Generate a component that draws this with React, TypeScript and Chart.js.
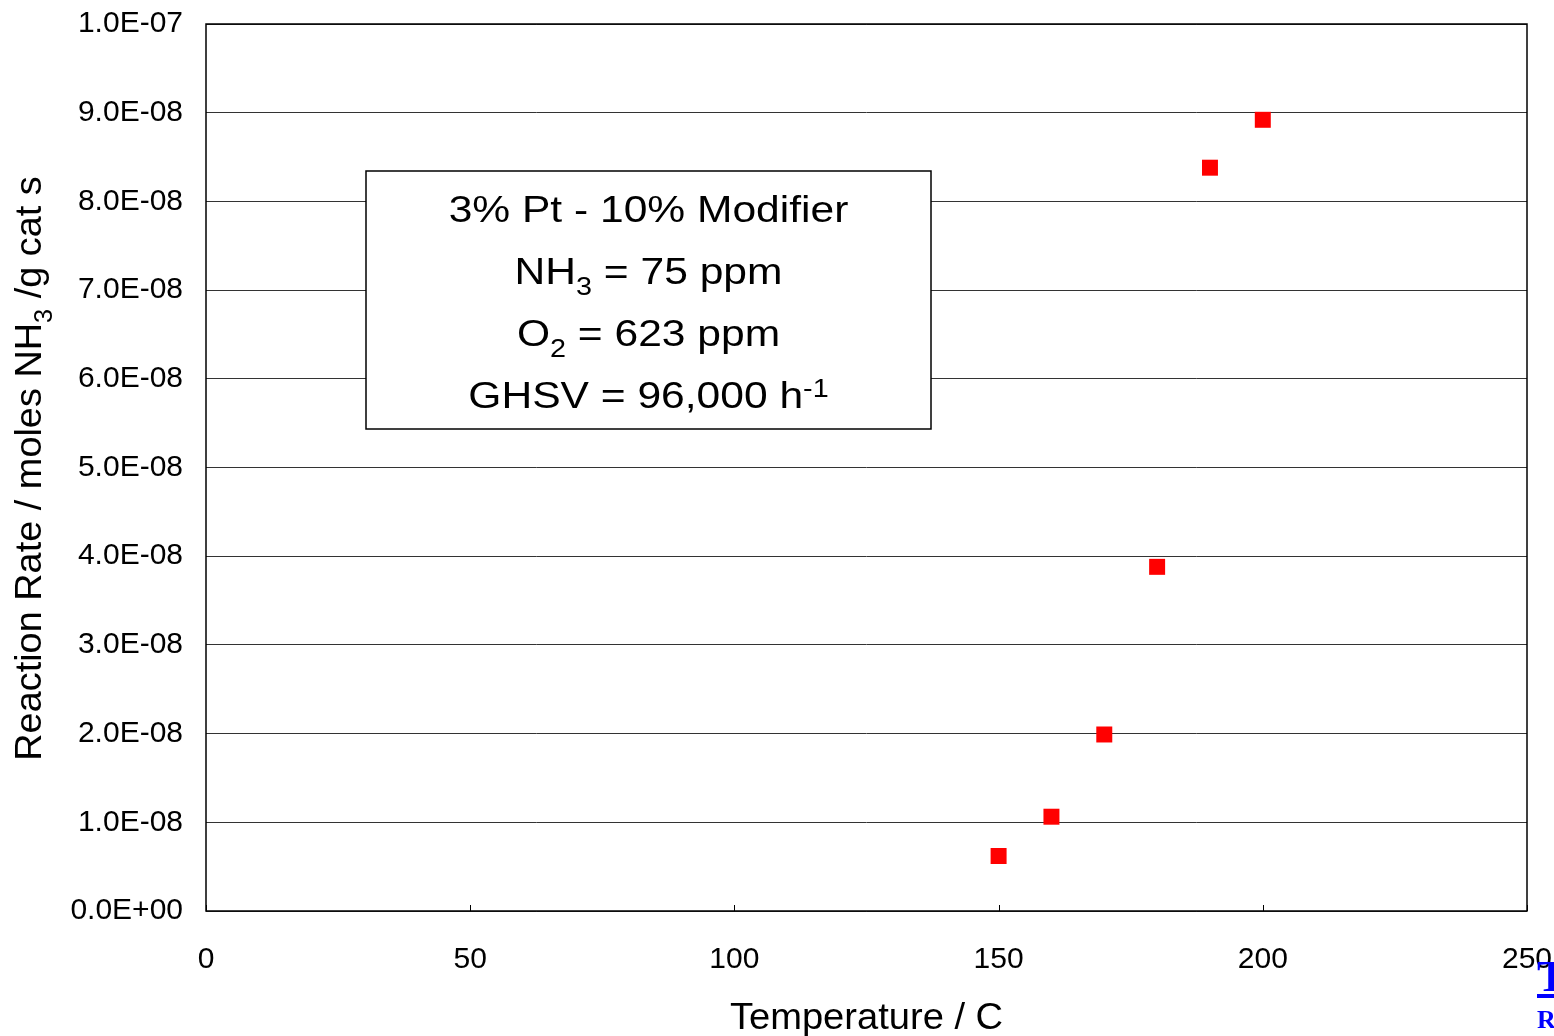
import React, { useEffect, useRef } from "react";
import { Chart, registerables } from "chart.js";

Chart.register(...registerables);

// ---- data ----
const temperatures = [150, 160, 170, 180, 190, 200];
const reactionRates = [6.2e-9, 1.063e-8, 1.99e-8, 3.88e-8, 8.38e-8, 8.92e-8];
const xTickValues = [0, 50, 100, 150, 200, 250];
const xAxisTitle = "Temperature / C";
// segments: [text, kind] kind: n = normal, sub = subscript, sup = superscript
const yAxisTitle: [string, string][] = [
  ["Reaction Rate / moles NH", "n"],
  ["3", "sub"],
  [" /g cat s", "n"],
];
const boxLines: [string, string][][] = [
  [["3% Pt - 10% Modifier", "n"]],
  [["NH", "n"], ["3", "sub"], [" = 75 ppm", "n"]],
  [["O", "n"], ["2", "sub"], [" = 623 ppm", "n"]],
  [["GHSV = 96,000 h", "n"], ["-1", "sup"]],
];

const FONT = '"Liberation Sans", Arial, sans-serif';

function fmtExp(v: number): string {
  if (Math.abs(v) < 1e-20) return "0.0E+00";
  const s = v.toExponential(1);
  const [m, e] = s.split("e");
  const sign = e[0] === "-" ? "-" : "+";
  const digits = e.replace(/[+-]/, "").padStart(2, "0");
  return `${m}E${sign}${digits}`;
}

function drawRich(
  ctx: CanvasRenderingContext2D,
  segs: [string, string][],
  cx: number,
  baseline: number,
  size: number,
  smallSize: number,
  hscale: number
) {
  ctx.save();
  ctx.translate(cx, baseline);
  ctx.scale(hscale, 1);
  const widths = segs.map(([t, k]) => {
    ctx.font = `${k === "n" ? size : smallSize}px ${FONT}`;
    return ctx.measureText(t).width;
  });
  const total = widths.reduce((a, b) => a + b, 0);
  let x = -total / 2;
  ctx.textAlign = "left";
  ctx.textBaseline = "alphabetic";
  segs.forEach(([t, k], i) => {
    ctx.font = `${k === "n" ? size : smallSize}px ${FONT}`;
    let y = 0;
    if (k === "sub") y = size * 0.3;
    if (k === "sup") y = -size * 0.3;
    ctx.fillText(t, x, y);
    x += widths[i];
  });
  ctx.restore();
}

const decorPlugin = {
  id: "decor",
  afterDraw(chart: any) {
    const ctx: CanvasRenderingContext2D = chart.ctx;
    const { left, right, top, bottom } = chart.chartArea;
    const xs = chart.scales.x;
    ctx.save();
    // inward x ticks
    ctx.strokeStyle = "#000";
    ctx.lineWidth = 1;
    xTickValues.forEach((v) => {
      const px = Math.round(xs.getPixelForValue(v)) + 0.5;
      ctx.beginPath();
      ctx.moveTo(px, bottom);
      ctx.lineTo(px, bottom - 6);
      ctx.stroke();
    });
    // plot border
    ctx.lineWidth = 1.5;
    ctx.strokeStyle = "#000";
    ctx.strokeRect(left, top, right - left, bottom - top);

    // annotation box
    const bx = 366, by = 171, bw = 565, bh = 258;
    ctx.fillStyle = "#fff";
    ctx.fillRect(bx, by, bw, bh);
    ctx.lineWidth = 1.5;
    ctx.strokeRect(bx, by, bw, bh);
    ctx.fillStyle = "#000";
    boxLines.forEach((line, i) => {
      drawRich(ctx, line, bx + bw / 2, 222 + i * 62, 37, 25, 1.15);
    });

    // x title
    drawRich(ctx, [[xAxisTitle, "n"]], (left + right) / 2, 1029, 37, 25, 1.03);

    // y title (rotated)
    ctx.save();
    ctx.translate(41, (top + bottom) / 2 + 1);
    ctx.rotate(-Math.PI / 2);
    drawRich(ctx, yAxisTitle, 0, 0, 37.5, 25, 1.01);
    ctx.restore();
    ctx.restore();
  },
};

const zeroPad = (s: any) => {
  s.paddingTop = 0;
  s.paddingBottom = 0;
  s.paddingLeft = 0;
  s.paddingRight = 0;
};

export default function App() {
  const ref = useRef<HTMLCanvasElement | null>(null);
  useEffect(() => {
    if (!ref.current) return;
    const chart = new Chart(ref.current, {
      type: "scatter",
      data: {
        datasets: [
          {
            label: "Rate",
            data: temperatures.map((t, i) => ({ x: t, y: reactionRates[i] })),
            pointStyle: "rect",
            pointRadius: 11.3,
            pointHoverRadius: 11.3,
            backgroundColor: "#ff0000",
            borderColor: "#ff0000",
            borderWidth: 0,
          },
        ],
      },
      options: {
        responsive: false,
        animation: false,
        events: [],
        layout: { padding: { left: 0, right: 27, top: 24, bottom: 0 } },
        plugins: { legend: { display: false }, tooltip: { enabled: false } },
        scales: {
          x: {
            type: "linear",
            min: 0,
            max: 250,
            afterFit: (s: any) => {
              s.height = 125;
              zeroPad(s);
            },
            afterBuildTicks: (s: any) => {
              s.ticks = xTickValues.map((v) => ({ value: v }));
            },
            grid: { display: false, drawTicks: false },
            border: { display: false },
            ticks: {
              padding: 31,
              color: "#000",
              font: { family: FONT, size: 30 },
              maxRotation: 0,
              callback: (v: any) => String(v),
            },
          },
          y: {
            type: "linear",
            min: 0,
            max: 1e-7,
            afterFit: (s: any) => {
              s.width = 206;
              zeroPad(s);
            },
            grid: {
              color: "#333",
              lineWidth: 1,
              drawTicks: false,
            },
            border: { display: false },
            ticks: {
              stepSize: 1e-8,
              padding: 23,
              color: "#000",
              font: { family: FONT, size: 30 },
              callback: (v: any) => fmtExp(Number(v)),
            },
          },
        },
      },
      plugins: [decorPlugin],
    });
    return () => chart.destroy();
  }, []);

  return (
    <div
      style={{
        position: "fixed",
        left: 0,
        top: 0,
        width: 1554,
        height: 1036,
        background: "#fff",
        overflow: "hidden",
      }}
    >
      <canvas ref={ref} width={1554} height={1036} style={{ display: "block" }} />
      <div
        style={{
          position: "absolute",
          left: 1537,
          top: 955,
          color: "#0000ff",
          fontFamily: '"Liberation Serif", serif',
          fontWeight: "bold",
          lineHeight: 1,
          whiteSpace: "nowrap",
        }}
      >
        <div style={{ fontSize: 44, textDecoration: "underline" }}>T</div>
        <div style={{ fontSize: 26, marginTop: 8 }}>R</div>
      </div>
    </div>
  );
}
